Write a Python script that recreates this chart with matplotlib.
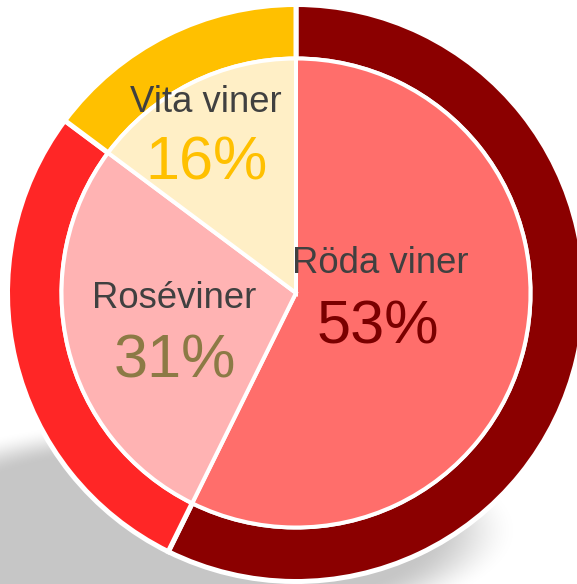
import numpy as np
import matplotlib
matplotlib.use("Agg")
import matplotlib.pyplot as plt

# ---- data ----
categories = ["Röda viner", "Roséviner", "Vita viner"]
slice_values = [57.3, 27.9, 14.8]          # angular shares as drawn
pct_labels = ["53%", "31%", "16%"]

# ---- styles ----
ring_colors = ["#8B0000", "#FF2626", "#FFC000"]
pie_colors = ["#FF6E6B", "#FFB3B3", "#FFEFC6"]
pct_colors = ["#7A0000", "#8C7A45", "#FFC000"]
name_color = "#404040"

W, H = 577, 584
fig = plt.figure(figsize=(W / 100, H / 100), dpi=100)
ax = fig.add_axes([0, 0, 1, 1])

cx, cy_pix = 296, 293
cy = H - cy_pix

# shadow (soft ellipse under lower-left)
yy, xx = np.mgrid[0:H, 0:W]
sx, sy, a, b = 180, 530, 300, 100
d = np.sqrt(((xx - sx) / a) ** 2 + ((yy - sy) / b) ** 2)
alpha = np.clip((1.12 - d) / 0.30, 0, 1)
alpha = alpha * alpha * (3 - 2 * alpha)
img = np.zeros((H, W, 4))
img[..., :3] = 0.78
img[..., 3] = alpha
ax.imshow(img, extent=(0, W, 0, H), origin="upper", zorder=0, interpolation="bilinear")

ring_lw_px = 5
pie_lw_px = 4
R_vis = 286
ring_in_vis = 236.5
pie_vis = 232.5

ax.pie(slice_values, colors=ring_colors, startangle=90, counterclock=False,
       center=(cx, cy), radius=R_vis + ring_lw_px / 2,
       wedgeprops=dict(width=(R_vis + ring_lw_px / 2) - (ring_in_vis - ring_lw_px / 2),
                       edgecolor="white", linewidth=ring_lw_px * 0.72),
       frame=False)
ax.pie(slice_values, colors=pie_colors, startangle=90, counterclock=False,
       center=(cx, cy), radius=pie_vis + pie_lw_px / 2,
       wedgeprops=dict(edgecolor="white", linewidth=pie_lw_px * 0.72),
       frame=False)

ax.set_xlim(0, W)
ax.set_ylim(0, H)
ax.set_aspect("equal")
ax.axis("off")

font = ["Liberation Sans", "DejaVu Sans"]
name_pos = [(380, 273), (174, 308), (206, 112)]
pct_pos = [(378, 343), (175, 378), (206, 180)]
for i, cat in enumerate(categories):
    nx, ny = name_pos[i]
    px, py = pct_pos[i]
    ax.text(nx, H - ny, cat, ha="center", va="baseline", fontsize=26.3,
            color=name_color, family=font, zorder=5)
    ax.text(px, H - py, pct_labels[i], ha="center", va="baseline", fontsize=44,
            color=pct_colors[i], family=font, zorder=5)

fig.savefig("out.png", dpi=100)
